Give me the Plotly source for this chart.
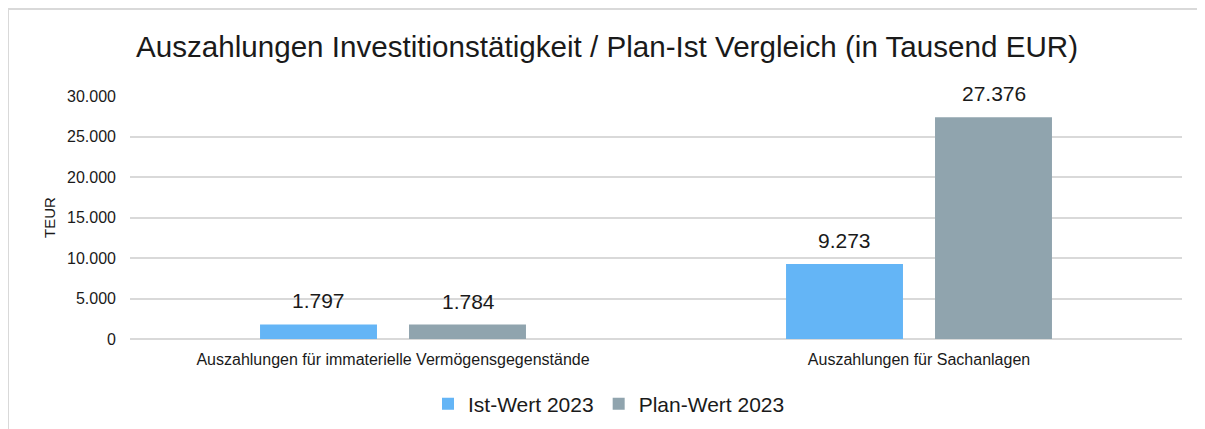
import plotly.graph_objects as go

categories = ["Auszahlungen für immaterielle Vermögensgegenstände", "Auszahlungen für Sachanlagen"]
ist_wert_2023 = [1797, 9273]
plan_wert_2023 = [1784, 27376]
series_names = ["Ist-Wert 2023", "Plan-Wert 2023"]
tick_values = [0, 5000, 10000, 15000, 20000, 25000, 30000]

FONT = "Arial, 'Liberation Sans', sans-serif"
BLUE = "#64B5F6"
GREY = "#90A4AE"
TXT = "#1a1a1a"

W, H = 1197, 421  # page has an 8px body margin


def de(v):
    return f"{v:,}".replace(",", ".")


fig = go.Figure()
fig.add_trace(go.Bar(name=series_names[0], x=categories, y=ist_wert_2023,
                     marker=dict(color=BLUE, line=dict(width=0))))
fig.add_trace(go.Bar(name=series_names[1], x=categories, y=plan_wert_2023,
                     marker=dict(color=GREY, line=dict(width=0))))

# value labels above bars
annotations = []
for vals, shift in ((ist_wert_2023, -75), (plan_wert_2023, 75)):
    for c, v in zip(categories, vals):
        annotations.append(dict(x=c, y=v, xref="x", yref="y", text=de(v),
                                showarrow=False, xshift=shift, yshift=10,
                                yanchor="bottom", xanchor="center",
                                font=dict(family=FONT, size=21, color=TXT)))

fig.update_layout(
    width=W, height=H,
    margin=dict(l=122, r=23, t=88, b=90),
    paper_bgcolor="white", plot_bgcolor="white",
    separators=",.",
    barmode="group", bargap=0.4335, bargroupgap=0.215,
    font=dict(family=FONT, color=TXT),
    title=dict(text="Auszahlungen Investitionstätigkeit / Plan-Ist Vergleich (in Tausend EUR)",
               x=599 / W, xanchor="center", y=1 - 39 / H, yanchor="middle",
               xref="container", yref="container",
               font=dict(family=FONT, size=29.6, color=TXT)),
    legend=dict(orientation="h", x=601 / W, xanchor="center", xref="container",
                y=1 - 396 / H, yanchor="middle", yref="container",
                font=dict(family=FONT, size=21, color=TXT),
                traceorder="normal", itemwidth=30),
    annotations=annotations,
    showlegend=True,
)
fig.update_xaxes(showgrid=False, showline=False, ticks="", ticklabelstandoff=9,
                 tickfont=dict(family=FONT, size=16, color=TXT))
fig.update_yaxes(range=[0, 30000], tickvals=tick_values, tickformat=",d",
                 showgrid=True, gridcolor="#d9d9d9", gridwidth=1.5,
                 zeroline=True, zerolinecolor="#d9d9d9", zerolinewidth=1.5,
                 showline=False, ticks="", ticklabelstandoff=13,
                 tickfont=dict(family=FONT, size=16, color=TXT),
                 title=dict(text="TEUR", standoff=7,
                            font=dict(family=FONT, size=15, color=TXT)))

# outer chart frame (top and left edge visible in the crop)
px0, px1, py0, py1 = 122, 1174, 88, 331
def px(x):
    return (x - px0) / (px1 - px0)
def py(y):
    return (py1 - y) / (py1 - py0)
fig.add_shape(type="line", xref="paper", yref="paper", x0=px(0), x1=px(1210),
              y0=py(1), y1=py(1), line=dict(color="#d9d9d9", width=2))
fig.add_shape(type="line", xref="paper", yref="paper", x0=px(0), x1=px(0),
              y0=py(1), y1=py(440), line=dict(color="#d9d9d9", width=2))

fig.write_html("out.html")
